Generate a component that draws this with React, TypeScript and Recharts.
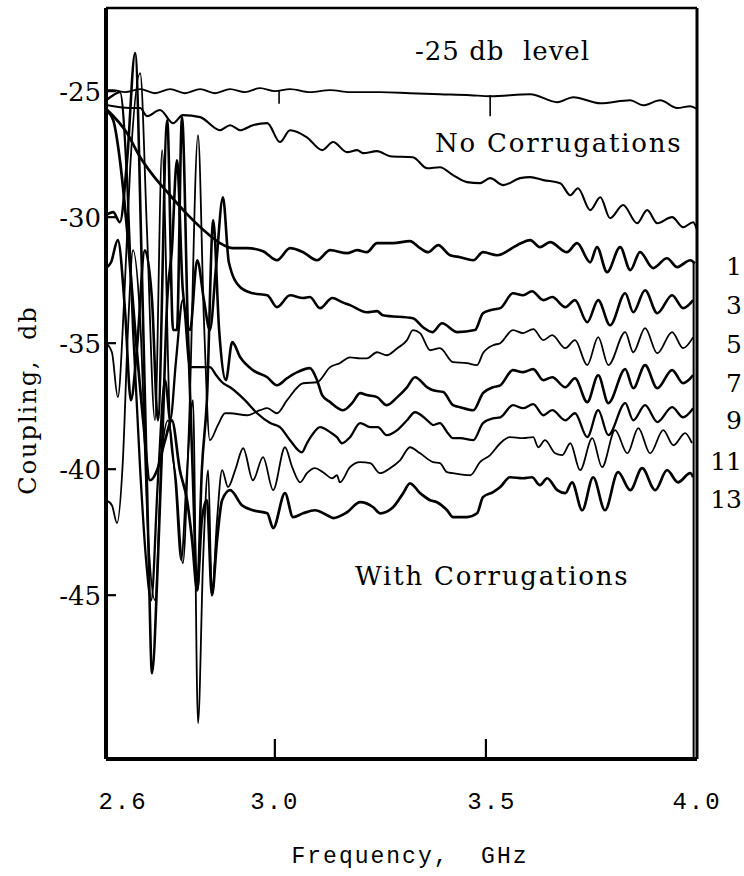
import { LineChart, Line, XAxis, YAxis, ReferenceLine } from 'recharts';

type Pt = [number, number];

// frequency (GHz), coupling (db)
const level25: Pt[] = [
  [2.600, -24.96], [2.617, -24.96], [2.645, -25.04], [2.681, -24.92], [2.716, -25.08], [2.752, -24.92],
  [2.787, -25.08], [2.823, -24.92], [2.858, -25.08], [2.894, -24.92], [2.929, -25.04], [2.965, -24.88],
  [3.000, -25.0], [3.036, -24.92], [3.083, -25.04], [3.131, -24.96], [3.178, -25.04], [3.249, -25.04],
  [3.320, -25.08], [3.391, -25.12], [3.463, -25.16], [3.510, -25.2], [3.605, -25.12], [3.669, -25.44],
  [3.707, -25.24], [3.771, -25.48], [3.842, -25.36], [3.872, -25.56], [3.913, -25.36], [3.953, -25.67],
  [3.984, -25.6], [4.0, -25.71],
];

const noCorrugations: Pt[] = [
  [2.600, -25.55], [2.657, -25.67], [2.681, -25.67], [2.697, -25.99], [2.728, -25.75], [2.759, -26.27],
  [2.782, -25.95], [2.823, -26.03], [2.870, -26.55], [2.894, -26.35], [2.918, -26.55], [2.948, -26.35],
  [2.982, -26.27], [3.012, -27.02], [3.036, -26.55], [3.076, -26.83], [3.112, -27.34], [3.138, -27.02],
  [3.171, -27.42], [3.195, -27.34], [3.209, -27.46], [3.242, -27.38], [3.273, -27.58], [3.327, -27.62],
  [3.361, -28.06], [3.391, -28.02], [3.422, -28.33], [3.455, -28.61], [3.486, -28.65], [3.510, -28.45],
  [3.541, -28.73], [3.581, -28.45], [3.605, -28.41], [3.636, -28.53], [3.676, -28.65], [3.700, -29.13],
  [3.718, -28.85], [3.747, -29.72], [3.771, -29.21], [3.794, -30.04], [3.825, -29.52], [3.858, -30.24],
  [3.882, -29.72], [3.906, -30.24], [3.941, -30.0], [3.967, -30.40], [3.991, -30.20], [4.0, -30.5],
];

const corr1: Pt[] = [
  [2.600, -25.70], [2.650, -26.67], [2.681, -27.62], [2.711, -28.33], [2.745, -29.00], [2.792, -29.88],
  [2.839, -30.63], [2.870, -31.03], [2.901, -31.23], [2.934, -31.23], [2.972, -31.35], [3.005, -31.71],
  [3.036, -31.23], [3.067, -31.39], [3.100, -31.71], [3.131, -31.31], [3.171, -31.43], [3.195, -31.31],
  [3.218, -31.39], [3.242, -31.03], [3.280, -31.03], [3.320, -30.95], [3.344, -31.23], [3.363, -31.39],
  [3.387, -31.11], [3.415, -31.51], [3.439, -31.59], [3.470, -31.71], [3.493, -31.39], [3.527, -31.51],
  [3.574, -31.11], [3.605, -30.91], [3.628, -31.19], [3.652, -30.99], [3.692, -31.39], [3.716, -31.03],
  [3.747, -31.79], [3.763, -31.19], [3.787, -32.18], [3.818, -31.19], [3.842, -32.10], [3.865, -31.39],
  [3.896, -32.02], [3.929, -31.63], [3.953, -31.98], [3.984, -31.71], [3.995, -31.83],
];

const corr3: Pt[] = [
  [2.600, -29.92], [2.617, -29.80], [2.633, -30.20], [2.650, -27.74], [2.669, -23.49], [2.685, -32.10],
  [2.700, -42.70], [2.709, -48.10], [2.723, -43.61], [2.735, -38.06], [2.745, -33.29], [2.756, -31.31],
  [2.768, -27.74], [2.782, -32.90], [2.799, -34.48], [2.816, -31.71], [2.832, -33.29], [2.846, -34.48],
  [2.861, -31.90], [2.877, -29.21], [2.891, -31.79], [2.918, -32.78], [2.948, -33.02], [2.982, -33.10],
  [3.005, -33.57], [3.036, -33.10], [3.067, -33.21], [3.083, -33.17], [3.107, -33.61], [3.136, -33.21],
  [3.159, -33.37], [3.178, -33.49], [3.218, -33.77], [3.242, -33.73], [3.256, -33.89], [3.327, -34.01],
  [3.351, -34.37], [3.373, -34.56], [3.396, -34.21], [3.432, -34.56], [3.474, -34.48], [3.493, -33.81],
  [3.510, -33.69], [3.534, -33.61], [3.564, -33.02], [3.588, -33.10], [3.609, -32.94], [3.636, -33.29],
  [3.657, -33.17], [3.688, -33.57], [3.711, -33.29], [3.740, -34.17], [3.766, -33.29], [3.794, -34.29],
  [3.830, -33.02], [3.849, -33.77], [3.877, -32.90], [3.906, -33.81], [3.941, -33.10], [3.967, -33.61],
  [3.991, -33.29],
];

const corr5: Pt[] = [
  [2.600, -35.00], [2.614, -35.36], [2.628, -37.14], [2.643, -33.29], [2.657, -28.13], [2.681, -24.29],
  [2.697, -30.52], [2.716, -38.06], [2.733, -27.34], [2.752, -38.45], [2.766, -40.44], [2.782, -43.73],
  [2.797, -38.06], [2.818, -26.75], [2.832, -34.09], [2.846, -38.85], [2.865, -38.25], [2.882, -37.78],
  [2.894, -37.78], [2.934, -37.86], [2.965, -37.66], [2.982, -37.58], [3.005, -37.78], [3.029, -37.26],
  [3.067, -36.59], [3.100, -36.55], [3.131, -35.95], [3.154, -35.79], [3.178, -35.56], [3.202, -35.60],
  [3.218, -35.60], [3.242, -35.36], [3.265, -35.48], [3.290, -35.20], [3.313, -34.88], [3.327, -34.48],
  [3.344, -34.60], [3.368, -35.28], [3.391, -35.20], [3.422, -35.75], [3.455, -35.79], [3.479, -35.87],
  [3.493, -35.40], [3.517, -35.08], [3.534, -35.00], [3.564, -34.48], [3.588, -34.60], [3.612, -34.44],
  [3.636, -34.88], [3.657, -34.68], [3.688, -35.20], [3.711, -34.88], [3.740, -35.87], [3.766, -34.76],
  [3.790, -35.87], [3.830, -34.56], [3.849, -35.36], [3.877, -34.40], [3.906, -35.40], [3.941, -34.56],
  [3.967, -35.20], [3.991, -34.76],
];

const corr7: Pt[] = [
  [2.600, -32.02], [2.612, -31.79], [2.628, -30.91], [2.645, -33.69], [2.659, -37.26], [2.673, -35.28],
  [2.692, -31.31], [2.709, -33.29], [2.723, -38.06], [2.745, -26.15], [2.759, -34.48], [2.768, -34.48],
  [2.780, -26.03], [2.794, -34.48], [2.806, -40.44], [2.816, -44.80], [2.827, -40.04], [2.839, -37.26],
  [2.854, -30.12], [2.868, -34.48], [2.884, -36.47], [2.899, -34.96], [2.918, -35.56], [2.948, -36.07],
  [2.982, -36.35], [3.005, -36.67], [3.029, -36.39], [3.053, -36.15], [3.083, -35.99], [3.100, -36.47],
  [3.112, -37.06], [3.131, -37.34], [3.162, -37.66], [3.183, -37.38], [3.202, -36.98], [3.218, -37.06],
  [3.242, -37.14], [3.265, -37.46], [3.290, -37.14], [3.313, -36.75], [3.332, -36.35], [3.361, -36.75],
  [3.375, -36.87], [3.399, -36.94], [3.422, -37.46], [3.439, -37.54], [3.470, -37.66], [3.493, -36.98],
  [3.517, -36.75], [3.534, -36.67], [3.564, -36.07], [3.588, -36.15], [3.612, -36.03], [3.636, -36.47],
  [3.657, -36.35], [3.688, -36.75], [3.711, -36.39], [3.740, -37.34], [3.766, -36.27], [3.790, -37.38],
  [3.830, -36.03], [3.849, -36.79], [3.877, -35.87], [3.906, -36.79], [3.941, -36.07], [3.967, -36.59],
  [3.991, -36.27],
];

const corr9: Pt[] = [
  [2.600, -25.36], [2.617, -25.16], [2.633, -25.04], [2.650, -28.53], [2.664, -34.48], [2.681, -40.04],
  [2.695, -43.61], [2.707, -45.20], [2.723, -40.44], [2.740, -36.47], [2.752, -38.06], [2.766, -35.67],
  [2.782, -33.29], [2.799, -35.95], [2.823, -35.95], [2.846, -35.95], [2.861, -36.27], [2.875, -36.55],
  [2.894, -36.75], [2.929, -37.26], [2.958, -37.78], [2.989, -38.17], [3.012, -38.33], [3.036, -38.85],
  [3.064, -39.33], [3.076, -38.97], [3.088, -38.65], [3.107, -38.33], [3.131, -38.53], [3.147, -38.73],
  [3.159, -38.97], [3.178, -38.73], [3.202, -38.17], [3.226, -38.33], [3.244, -38.33], [3.265, -38.65],
  [3.290, -38.45], [3.313, -38.06], [3.332, -37.74], [3.361, -38.06], [3.375, -38.25], [3.391, -38.17],
  [3.408, -38.53], [3.422, -38.77], [3.439, -38.77], [3.470, -38.85], [3.493, -38.17], [3.517, -37.98],
  [3.534, -37.94], [3.564, -37.46], [3.588, -37.58], [3.612, -37.42], [3.636, -37.86], [3.657, -37.66],
  [3.688, -38.06], [3.711, -37.78], [3.740, -38.73], [3.766, -37.66], [3.790, -38.65], [3.830, -37.38],
  [3.849, -38.06], [3.877, -37.46], [3.906, -38.13], [3.941, -37.54], [3.967, -37.94], [3.991, -37.58],
];

const corr11: Pt[] = [
  [2.600, -41.23], [2.614, -41.43], [2.626, -42.14], [2.640, -39.64], [2.652, -34.48], [2.664, -31.31],
  [2.681, -34.09], [2.700, -42.70], [2.716, -45.20], [2.733, -39.25], [2.747, -38.06], [2.764, -40.44],
  [2.778, -43.61], [2.792, -40.04], [2.806, -37.26], [2.818, -50.08], [2.830, -43.61], [2.842, -40.04],
  [2.851, -45.00], [2.863, -42.02], [2.875, -40.04], [2.889, -40.71], [2.906, -40.04], [2.925, -39.17],
  [2.948, -40.44], [2.972, -39.52], [2.996, -40.83], [3.024, -39.13], [3.041, -39.92], [3.060, -40.52],
  [3.076, -40.16], [3.095, -39.96], [3.114, -40.12], [3.136, -40.36], [3.147, -40.24], [3.154, -40.52],
  [3.178, -39.92], [3.202, -39.72], [3.226, -39.76], [3.249, -40.16], [3.273, -39.96], [3.297, -39.64],
  [3.320, -39.13], [3.344, -39.37], [3.375, -39.72], [3.391, -39.76], [3.408, -40.12], [3.422, -40.16],
  [3.463, -40.24], [3.486, -39.72], [3.510, -39.44], [3.534, -38.97], [3.557, -38.73], [3.588, -38.77],
  [3.612, -38.73], [3.624, -39.13], [3.640, -38.85], [3.664, -39.37], [3.681, -39.44], [3.700, -38.97],
  [3.723, -40.04], [3.752, -38.77], [3.775, -39.92], [3.806, -38.45], [3.835, -39.37], [3.861, -38.37],
  [3.889, -39.37], [3.920, -38.45], [3.944, -39.05], [3.972, -38.57], [3.988, -38.97],
];

const corr13: Pt[] = [
  [2.600, -25.75], [2.617, -26.15], [2.633, -27.74], [2.650, -30.52], [2.669, -34.48], [2.688, -38.06],
  [2.704, -40.44], [2.721, -40.04], [2.740, -38.85], [2.756, -38.06], [2.775, -40.04], [2.792, -41.23],
  [2.804, -42.82], [2.816, -44.80], [2.827, -42.02], [2.839, -41.23], [2.851, -45.00], [2.863, -42.82],
  [2.875, -41.23], [2.894, -40.83], [2.922, -41.43], [2.948, -41.63], [2.982, -41.75], [2.996, -42.34],
  [3.024, -40.95], [3.043, -41.90], [3.067, -41.75], [3.095, -41.63], [3.124, -41.83], [3.138, -41.94],
  [3.171, -41.71], [3.202, -41.31], [3.233, -41.51], [3.249, -41.75], [3.280, -41.51], [3.304, -40.95],
  [3.320, -40.56], [3.344, -40.95], [3.368, -41.23], [3.384, -41.31], [3.408, -41.63], [3.422, -41.90],
  [3.455, -41.90], [3.479, -41.75], [3.493, -41.11], [3.517, -40.91], [3.534, -40.71], [3.557, -40.32],
  [3.588, -40.36], [3.609, -40.32], [3.628, -40.63], [3.645, -40.36], [3.669, -40.83], [3.688, -40.95],
  [3.704, -40.52], [3.728, -41.63], [3.754, -40.32], [3.782, -41.63], [3.813, -40.12], [3.842, -40.83],
  [3.870, -39.96], [3.901, -40.83], [3.929, -40.04], [3.955, -40.52], [3.984, -40.16], [3.991, -40.32],
];

const xTicks = [2.6, 3.0, 3.5, 4.0];
const yTicks = [-25, -30, -35, -40, -45];
const curveLabels = ['1', '3', '5', '7', '9', '11', '13'];

const series = [
  { key: 'level', data: level25, width: 1.9 },
  { key: 'none', data: noCorrugations, width: 2.1 },
  { key: 'c1', data: corr1, width: 2.7 },
  { key: 'c3', data: corr3, width: 2.6 },
  { key: 'c5', data: corr5, width: 1.8 },
  { key: 'c7', data: corr7, width: 2.6 },
  { key: 'c9', data: corr9, width: 2.3 },
  { key: 'c11', data: corr11, width: 1.8 },
  { key: 'c13', data: corr13, width: 2.7 },
];

const serif = '"DejaVu Serif", "Liberation Serif", serif';
const mono = '"Liberation Mono", "DejaVu Sans Mono", monospace';

const XTick = ({ x, y, payload }: any) => {
  const v = payload.value as number;
  const dx = v === 2.6 ? 17 : v === 3.5 ? 6 : 0;
  return (
    <g>
      {v > 2.6 && v < 4.0 && <line x1={x} x2={x} y1={y} y2={y - 20} stroke="#000" strokeWidth={2.2} />}
      <text x={x + dx} y={y + 50} textAnchor="middle" fontFamily={mono} fontSize={24} letterSpacing={2} fill="#000">
        {v.toFixed(1)}
      </text>
    </g>
  );
};

const YTick = ({ x, y, payload }: any) => (
  <g>
    <line x1={x} x2={x + 10} y1={y} y2={y} stroke="#000" strokeWidth={2.2} />
    <text x={x - 5} y={y + 10} textAnchor="end" fontFamily={serif} fontSize={26} fill="#000">
      {payload.value}
    </text>
  </g>
);

const labelStyle = { position: 'absolute' as const, fontFamily: serif, color: '#000', whiteSpace: 'nowrap' as const, lineHeight: 1 };

export default function App() {
  return (
    <div style={{ position: 'absolute', left: 0, top: 0, width: 744, height: 876, background: '#fff' }}>
      <LineChart width={744} height={876} margin={{ top: 8, right: 47, bottom: 67, left: 46 }}>
        <XAxis
          dataKey="f"
          type="number"
          domain={[2.6, 4.0]}
          ticks={xTicks}
          allowDataOverflow
          height={50}
          tickSize={0}
          tickMargin={0}
          tick={<XTick />}
          axisLine={{ stroke: '#000', strokeWidth: 4 }}
        />
        <YAxis
          type="number"
          domain={[-51.5, -21.7]}
          ticks={yTicks}
          allowDataOverflow
          width={60}
          tickSize={0}
          tickMargin={0}
          tick={<YTick />}
          axisLine={{ stroke: '#000', strokeWidth: 4 }}
        />
        <ReferenceLine y={-21.7} stroke="#000" strokeWidth={2.5} />
        <ReferenceLine x={4.0} stroke="#000" strokeWidth={3} />
        <ReferenceLine segment={[{ x: 3.992, y: -31.8 }, { x: 3.992, y: -51.5 }]} stroke="#000" strokeWidth={2} />
        <ReferenceLine segment={[{ x: 3.01, y: -24.95 }, { x: 3.01, y: -25.5 }]} stroke="#000" strokeWidth={1.6} />
        <ReferenceLine segment={[{ x: 3.51, y: -25.15 }, { x: 3.51, y: -26.0 }]} stroke="#000" strokeWidth={1.6} />
        {series.map((s) => (
          <Line
            key={s.key}
            data={s.data.map(([f, v]) => ({ f, v }))}
            dataKey="v"
            type="monotone"
            stroke="#000"
            strokeWidth={s.width}
            dot={false}
            activeDot={false}
            isAnimationActive={false}
          />
        ))}
      </LineChart>

      <div style={{ ...labelStyle, left: 415, top: 38, fontSize: 26, letterSpacing: 1 }}>-25 db&nbsp; level</div>
      <div style={{ ...labelStyle, left: 435, top: 130, fontSize: 26, letterSpacing: 1.8 }}>No Corrugations</div>
      <div style={{ ...labelStyle, left: 355, top: 563, fontSize: 26, letterSpacing: 1.8 }}>With Corrugations</div>

      {curveLabels.map((t, i) => (
        <div
          key={t}
          style={{ ...labelStyle, left: 700, width: 42, textAlign: 'right', top: [254, 293, 332, 371, 408, 449, 487][i], fontSize: 25 }}
        >
          {t}
        </div>
      ))}

      <div
        style={{
          ...labelStyle,
          left: 28,
          top: 400,
          fontSize: 24,
          letterSpacing: 2,
          transform: 'translate(-50%, -50%) rotate(-90deg)',
        }}
      >
        Coupling,&nbsp; db
      </div>
      <div style={{ ...labelStyle, left: 410, top: 857, fontFamily: mono, fontSize: 23, letterSpacing: 2, transform: 'translate(-50%, -50%)' }}>
        Frequency,&nbsp; GHz
      </div>
    </div>
  );
}
